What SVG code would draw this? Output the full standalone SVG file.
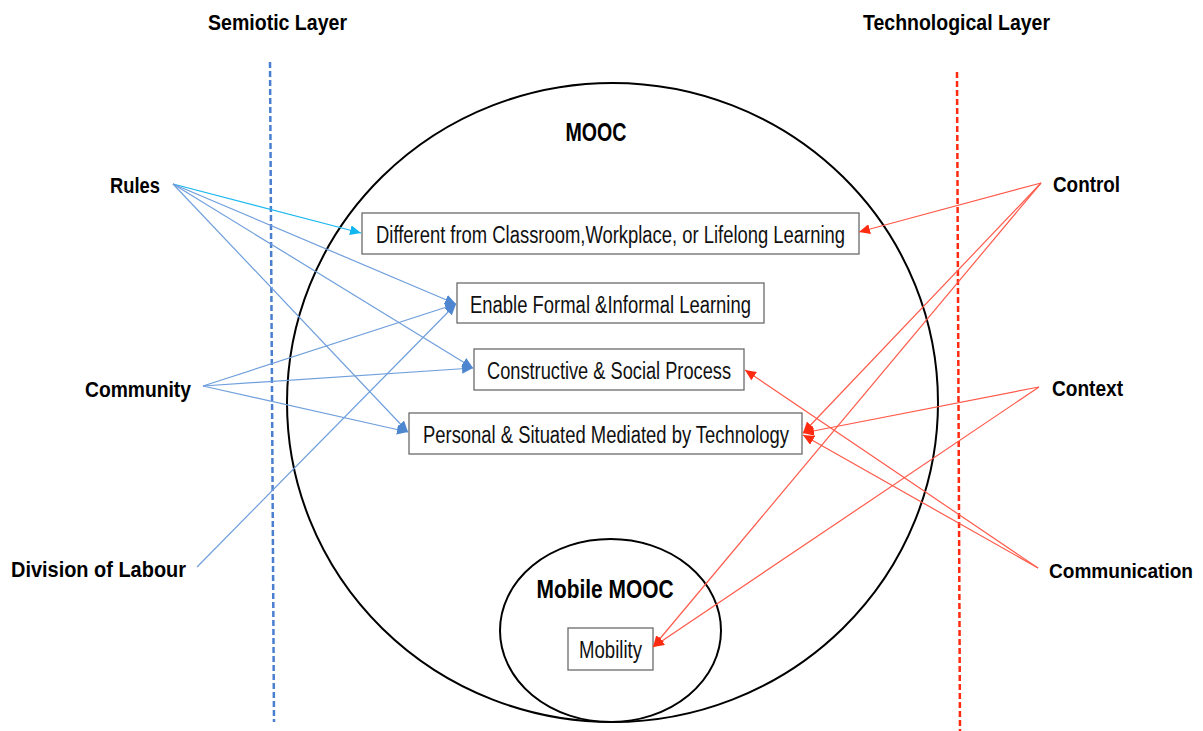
<svg xmlns="http://www.w3.org/2000/svg" width="1203" height="731" viewBox="0 0 1203 731">
<style>
.lbl{font-family:"Liberation Sans","DejaVu Sans",sans-serif;font-weight:bold;fill:#000}
.box{fill:#fff;stroke:#6b6b6b;stroke-width:1.3}
.bt{font-family:"Liberation Sans","DejaVu Sans",sans-serif;font-size:23px;fill:#111}
.ring{fill:none;stroke:#000;stroke-width:2}
.b{stroke:#6f9fdc;stroke-width:1.2;fill:none}
.c{stroke:#1ab8f0;stroke-width:1.2;fill:none}
.r{stroke:#ff5a4a;stroke-width:1.2;fill:none}
</style>
<defs>
<marker id="ab" markerUnits="userSpaceOnUse" markerWidth="12" markerHeight="10" refX="11" refY="5" orient="auto"><path d="M0,0 L11,5 L0,10 z" fill="#4f86d0"/></marker>
<marker id="ac" markerUnits="userSpaceOnUse" markerWidth="12" markerHeight="10" refX="11" refY="5" orient="auto"><path d="M0,0 L11,5 L0,10 z" fill="#10b6f0"/></marker>
<marker id="ar" markerUnits="userSpaceOnUse" markerWidth="12" markerHeight="10" refX="11" refY="5" orient="auto"><path d="M0,0 L11,5 L0,10 z" fill="#ff2a10"/></marker>
</defs>
<rect width="1203" height="731" fill="#fff"/>

<g id="headers">
<text class="lbl" x="208" y="30" font-size="22" textLength="139" lengthAdjust="spacingAndGlyphs">Semiotic Layer</text>
<text class="lbl" x="863" y="30" font-size="22" textLength="187" lengthAdjust="spacingAndGlyphs">Technological Layer</text>
</g>

<g id="layer-lines">
<line x1="270" y1="62" x2="274" y2="722" stroke="#4a7fd0" stroke-width="2.5" stroke-dasharray="6,3"/>
<line x1="957" y1="72" x2="960" y2="731" stroke="#ff2a10" stroke-width="2.5" stroke-dasharray="6,3"/>
</g>

<g id="mooc">
<ellipse class="ring" cx="612.5" cy="402.5" rx="325.5" ry="319.5"/>
<text class="lbl" x="596" y="141" font-size="25" text-anchor="middle" textLength="61" lengthAdjust="spacingAndGlyphs">MOOC</text>
</g>

<g id="mobile-mooc">
<ellipse class="ring" cx="610.5" cy="630.5" rx="110.5" ry="91.5"/>
<text class="lbl" x="605" y="598" font-size="25" text-anchor="middle" textLength="137" lengthAdjust="spacingAndGlyphs">Mobile MOOC</text>
</g>

<g id="node-different">
<rect class="box" x="362" y="213" width="497" height="41"/>
<text class="bt" x="376" y="243" textLength="469" lengthAdjust="spacingAndGlyphs">Different from Classroom,Workplace, or Lifelong Learning</text>
</g>
<g id="node-enable">
<rect class="box" x="457" y="283" width="307" height="40"/>
<text class="bt" x="470" y="313" textLength="281" lengthAdjust="spacingAndGlyphs">Enable Formal &amp;Informal Learning</text>
</g>
<g id="node-constructive">
<rect class="box" x="474" y="349" width="270" height="41"/>
<text class="bt" x="487" y="379" textLength="244" lengthAdjust="spacingAndGlyphs">Constructive &amp; Social Process</text>
</g>
<g id="node-personal">
<rect class="box" x="409" y="413" width="393" height="41"/>
<text class="bt" x="423" y="443" textLength="366" lengthAdjust="spacingAndGlyphs">Personal &amp; Situated Mediated by Technology</text>
</g>
<g id="node-mobility">
<rect class="box" x="568" y="628" width="85" height="42"/>
<text class="bt" x="610.5" y="658" text-anchor="middle" textLength="63" lengthAdjust="spacingAndGlyphs">Mobility</text>
</g>

<g id="node-rules"><text class="lbl" x="110" y="193" font-size="22" textLength="50" lengthAdjust="spacingAndGlyphs">Rules</text></g>
<g id="node-community"><text class="lbl" x="85" y="397" font-size="22" textLength="106" lengthAdjust="spacingAndGlyphs">Community</text></g>
<g id="node-division"><text class="lbl" x="11" y="577" font-size="22" textLength="175" lengthAdjust="spacingAndGlyphs">Division of Labour</text></g>
<g id="node-control"><text class="lbl" x="1053" y="192" font-size="22" textLength="67" lengthAdjust="spacingAndGlyphs">Control</text></g>
<g id="node-context"><text class="lbl" x="1052" y="396" font-size="22" textLength="71" lengthAdjust="spacingAndGlyphs">Context</text></g>
<g id="node-communication"><text class="lbl" x="1049" y="578" font-size="20" textLength="144" lengthAdjust="spacingAndGlyphs">Communication</text></g>

<g id="connectors">
<line class="c" x1="173" y1="184" x2="361" y2="233" marker-end="url(#ac)"/>
<line class="b" x1="173" y1="184" x2="456" y2="304" marker-end="url(#ab)"/>
<line class="b" x1="173" y1="184" x2="473" y2="368" marker-end="url(#ab)"/>
<line class="b" x1="173" y1="184" x2="408" y2="432" marker-end="url(#ab)"/>
<line class="b" x1="203" y1="386" x2="456" y2="304" marker-end="url(#ab)"/>
<line class="b" x1="203" y1="386" x2="473" y2="368" marker-end="url(#ab)"/>
<line class="b" x1="203" y1="386" x2="408" y2="432" marker-end="url(#ab)"/>
<line class="b" x1="197" y1="567" x2="456" y2="304" marker-end="url(#ab)"/>

<line class="r" x1="1041" y1="183" x2="859" y2="232" marker-end="url(#ar)"/>
<line class="r" x1="1041" y1="183" x2="803" y2="433" marker-end="url(#ar)"/>
<line class="r" x1="1041" y1="183" x2="653" y2="647" marker-end="url(#ar)"/>
<line class="r" x1="1039" y1="387" x2="803" y2="433" marker-end="url(#ar)"/>
<line class="r" x1="1039" y1="387" x2="653" y2="647" marker-end="url(#ar)"/>
<line class="r" x1="1038" y1="568" x2="745" y2="370" marker-end="url(#ar)"/>
<line class="r" x1="1038" y1="568" x2="803" y2="435" marker-end="url(#ar)"/>
</g>
</svg>
